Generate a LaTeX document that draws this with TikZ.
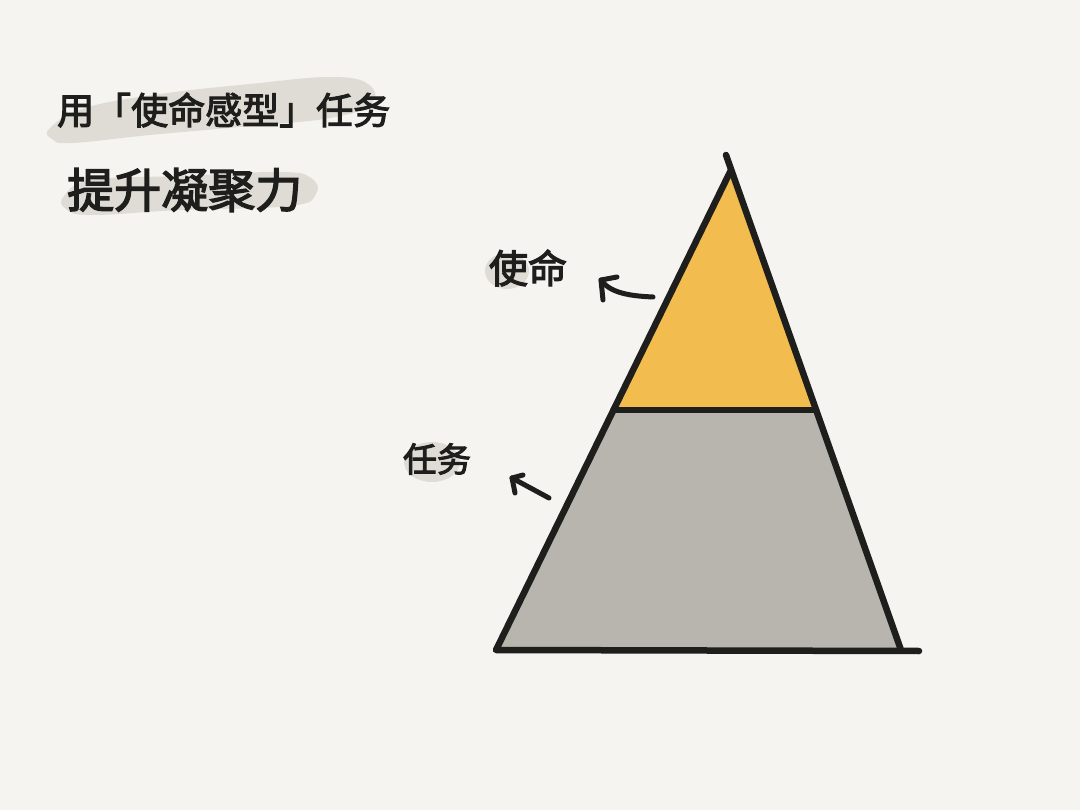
\documentclass[tikz,border=0pt]{standalone}
\usepackage{fontspec}
\newfontfamily\cjk[FakeBold=3]{Noto Sans CJK SC}
\usetikzlibrary{calc}
\definecolor{bg}{HTML}{F5F4F1}
\definecolor{ink}{HTML}{1E1E1C}
\definecolor{gold}{HTML}{F3BC4E}
\definecolor{stone}{HTML}{B8B4AE}
\definecolor{hl}{HTML}{DFDCD5}
\tikzset{
  pen/.style={draw=ink, line width=5pt, line cap=round, line join=round},
  edge/.style={draw=ink, line width=6.5pt, line cap=round, line join=round},
  title/.style={font=\cjk\fontsize{37}{40}\selectfont, text=ink, inner sep=0pt},
  lbl/.style={font=\cjk\fontsize{39}{42}\selectfont, text=ink, inner sep=0pt},
  blob/.style={fill=hl, draw=none}
}
\begin{document}
\begin{tikzpicture}[x=1pt,y=-1pt]
\fill[bg] (0,0) rectangle (1080,810);
\useasboundingbox (0,0) rectangle (1080,810);

% highlight blobs
\fill[blob] plot[smooth cycle, tension=0.7] coordinates {(50,128) (85,108) (160,94) (250,84) (330,77) (368,84) (371,104) (330,118) (250,126) (150,135) (72,143) (52,139)};
\fill[blob] plot[smooth cycle, tension=0.7] coordinates {(64,196) (92,180) (180,176) (280,172) (311,178) (316,194) (290,206) (180,210) (92,215) (66,209)};
\fill[blob] (507,271) ellipse [x radius=22, y radius=18];
\fill[blob] (432,462) ellipse [x radius=28, y radius=20];

% titles
\node[title, anchor=west] (t1) at (57,110) {用「使命感型」任务};
\node[title, anchor=west, font=\cjk\fontsize{47}{50}\selectfont] (t2) at (67,190) {提升凝聚力};

% triangle
\coordinate (apex) at (731,170);
\coordinate (apexT) at (726,155);
\coordinate (bl) at (496,650);
\coordinate (br) at (901,650);
\coordinate (brx) at (919,651);
\coordinate (ml) at (613.5,410);
\coordinate (mr) at (816,410);
\fill[stone] (ml) -- (mr) -- (br) -- (bl) -- cycle;
\fill[gold] (apex) -- (mr) -- (ml) -- cycle;
\draw[edge] (ml) -- (mr);
\draw[edge] (apex) -- (bl) -- (brx);
\draw[edge] (apexT) -- (br);

% labels
\node[lbl] (mission) at (528,268) {使命};
\node[lbl, font=\cjk\fontsize{34}{38}\selectfont] (task) at (437,459) {任务};

% arrows
\coordinate (a1s) at (653,297);
\coordinate (a1t) at (601,280);
\draw[pen] (a1s) .. controls (630,296) and (610,293) .. (a1t);
\draw[pen] ($(a1t)+(16,-3)$) -- (a1t) -- ($(a1t)+(2,20)$);
\coordinate (a2s) at (549,498);
\coordinate (a2t) at (512,478);
\draw[pen] (a2s) -- (a2t);
\draw[pen] ($(a2t)+(11,-3)$) -- (a2t) -- ($(a2t)+(3,15)$);
\end{tikzpicture}
\end{document}
